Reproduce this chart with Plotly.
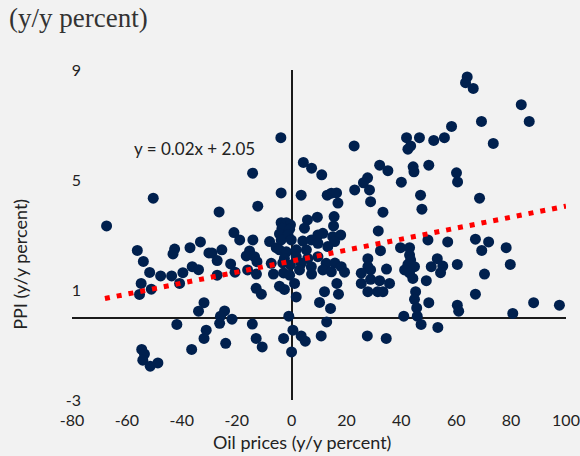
import plotly.graph_objects as go

# ---------------------------------
# Data
# ---------------------------------

oil_yy = [
    64.0, 63.4, 66.2, 83.7, 69.2, 86.6, 73.5, 58.3, 60.1, 55.7,
    51.8, 46.6, 41.9, 43.4, 42.4, 22.8, 32.1, 35.1, 44.3, 44.6,
    50.0, 27.7, -3.9, 4.3, 7.3, 11.0, -14.2, -50.4, -67.4, -56.2,
    -54.0, -42.6, -43.2, -37.0, -33.2, -30.1, -29.0, -26.4, -27.1, -51.7,
    -47.7, -43.7, -39.6, -40.8, -36.2, -33.9,
    -3.8, 3.5, 13.0, 14.5, 16.4, 16.9, -12.3, 5.8, 9.4, 15.5,
    15.3, -3.8, -1.9, -0.4, -3.5, -0.7, 4.7, -4.4, -1.3, 11.4,
    9.6, 15.0, 17.9, -21.0, -18.9, -14.1, -8.0, -3.8, -0.1, 4.1,
    7.2, 9.6, 15.7, -25.4, -15.3, -5.6, -4.4, -1.9, 1.7, 5.4,
    13.2, -16.5, -13.5, -2.6, 1.7, 5.9, 9.6, -22.2, -12.6, -7.4,
    -3.2, -0.4, 3.5, 7.2, 12.6, 15.8, -27.1, -20.6, -16.0, -12.8,
    -6.6, -2.9, -0.7, 2.9, 7.3, 11.4, 14.5, 19.3,
    60.5, 26.2, 23.0, 28.4, 28.8, 40.0, 47.0, 47.5, 33.3, 31.6,
    49.7, 56.9, 32.4, 39.7, 43.0, 43.0, 43.4, 27.8, 18.1, 27.8,
    28.8, 34.6, 42.4, 41.2, 44.8, 43.0, 53.1, 50.9, 55.1, 54.3,
    25.4,
    68.5, 67.0, 71.8, 69.3, 78.2, 60.4, 79.7, 70.3,
    67.0, 60.4, 60.9, 80.6, 88.2, 97.6,
    16.5, 17.1, 25.4, 28.8, 32.1, 35.7, 27.8, 31.4, 33.3, 44.2,
    49.1, 45.2, 44.8, 45.6, 50.0, 40.9, 45.8, 47.2, 53.3, 27.6,
    34.5,
    -12.9, -11.0, 1.1, -4.4, -2.6, 1.7, 12.0, 10.2, 14.2, -24.4,
    -25.9, -26.2, -21.7, -14.3, -1.0, 0.5, 3.5, 5.0, -2.9, -12.9,
    -10.7, -24.0, 0.0, 10.8, 12.8,
    -54.8, -55.4, -51.1, -31.9, -33.9, -41.8, -31.1, -31.9, -36.4, -54.6,
    -53.6, -54.2, -48.7, -51.5,
]

ppi_yy = [
    8.75, 8.54, 8.33, 7.74, 7.13, 7.13, 6.33, 6.95, 5.26, 6.54,
    6.44, 6.54, 6.54, 6.24, 6.12, 6.24, 5.54, 5.34, 5.48, 5.30,
    5.54, 5.08, 6.54, 5.64, 5.43, 5.19, 5.25, 4.34, 3.33, 2.44,
    2.04, 2.49, 2.31, 2.54, 2.75, 2.35, 2.35, 3.84, 2.07, 1.64,
    1.51, 1.51, 1.63, 1.24, 1.85, 1.74,
    4.53, 4.45, 4.45, 4.52, 4.53, 4.16, 4.05, 3.55, 3.65, 3.67,
    3.33, 3.45, 3.45, 3.37, 3.25, 3.21, 3.25, 3.04, 3.00, 3.06,
    3.00, 2.94, 3.00, 3.09, 2.82, 2.82, 2.76, 2.82, 2.82, 2.78,
    2.82, 2.70, 2.76, 2.46, 2.42, 2.54, 2.46, 2.39, 2.46, 2.46,
    2.58, 2.24, 2.21, 2.15, 2.21, 2.15, 2.21, 1.95, 2.03, 1.97,
    1.99, 1.91, 1.97, 1.85, 1.97, 1.98, 1.54, 1.65, 1.73, 1.58,
    1.58, 1.62, 1.54, 1.73, 1.58, 1.73, 1.66, 1.65,
    4.93, 4.90, 4.64, 4.64, 4.21, 4.92, 4.45, 3.94, 3.83, 3.15,
    2.82, 2.75, 2.43, 2.54, 2.54, 2.27, 2.09, 2.14, 1.85, 1.85,
    1.73, 1.76, 1.93, 1.73, 1.85, 1.62, 2.14, 1.85, 1.87, 1.63,
    1.61,
    4.34, 2.85, 2.75, 2.44, 2.54, 1.93, 1.93, 1.58,
    0.85, 0.45, 0.23, 0.15, 0.54, 0.45,
    1.24, 0.85, 1.24, 1.39, 1.34, 1.24, 0.94, 0.94, 0.94, 1.42,
    1.34, 0.94, 0.66, 0.35, 0.54, 0.05, 0.05, -0.25, -0.36, -0.67,
    -0.76,
    1.06, 0.85, 1.24, 1.14, 1.02, 0.75, 0.94, 0.55, 0.33, 0.24,
    0.05, -0.21, -0.06, -0.24, 0.05, -0.46, -0.67, -0.86, -0.76, -0.76,
    -1.07, -0.94, -1.25, -0.67, -0.16,
    1.24, 0.84, 1.03, 0.54, 0.23, -0.25, -0.46, -0.76, -1.16, -1.16,
    -1.33, -1.55, -1.65, -1.77,
]

# linear trend shown on the chart: y = 0.02x + 2.05
trend_slope = 0.02
trend_intercept = 2.05
trend_x = [-68, 100]
trend_y = [trend_slope * v + trend_intercept for v in trend_x]

x_ticks = [-80, -60, -40, -20, 0, 20, 40, 60, 80, 100]
y_ticks = [-3, 1, 5, 9]

NAVY = "#00204E"
BG = "#F2F2F2"
SANS = "Lato, Liberation Sans, sans-serif"
TXT = "#222222"

# ---------------------------------
# Figure
# ---------------------------------

fig = go.Figure()

fig.add_trace(go.Scatter(
    x=oil_yy,
    y=ppi_yy,
    mode="markers",
    marker=dict(size=11, color=NAVY),
    showlegend=False,
    hoverinfo="x+y",
))

fig.add_trace(go.Scatter(
    x=trend_x,
    y=trend_y,
    mode="lines",
    line=dict(color="#FF0000", width=5, dash="5px,7px"),
    showlegend=False,
    hoverinfo="skip",
))

fig.update_layout(
    width=580,
    height=456,
    margin=dict(l=72, r=14, t=70, b=56),
    paper_bgcolor=BG,
    plot_bgcolor=BG,
    font=dict(family=SANS, size=17, color=TXT),
    xaxis=dict(
        range=[-80, 100],
        tickvals=x_ticks,
        ticktext=[str(v) for v in x_ticks],
        showgrid=False,
        zeroline=True,
        zerolinecolor="#1a1a1a",
        zerolinewidth=1.5,
        showline=False,
        ticks="",
        automargin=False,
        ticklabelstandoff=9,
        tickfont=dict(size=16, color=TXT),
    ),
    yaxis=dict(
        range=[-3, 9],
        tickvals=y_ticks,
        ticktext=[str(v) for v in y_ticks],
        showgrid=False,
        zeroline=True,
        zerolinecolor="#1a1a1a",
        zerolinewidth=2,
        showline=False,
        ticks="",
        automargin=False,
        ticklabelstandoff=-10,
        tickfont=dict(size=16, color=TXT),
    ),
    annotations=[
        dict(text="(y/y percent)", xref="paper", yref="paper",
             x=-0.132, y=1.158, xanchor="left", yanchor="middle", showarrow=False,
             font=dict(family="Liberation Serif, serif", size=27, color="#333333")),
        dict(text="y = 0.02x + 2.05", xref="x", yref="y",
             x=-58, y=6.15, xanchor="left", yanchor="middle", showarrow=False,
             font=dict(family=SANS, size=17, color=TXT)),
        dict(text="Oil prices (y/y percent)", xref="paper", yref="paper",
             x=0.466, y=-0.128, xanchor="center", yanchor="middle", showarrow=False,
             font=dict(family=SANS, size=18, color=TXT)),
        dict(text="PPI (y/y percent)", xref="paper", yref="paper",
             x=-0.105, y=0.41, xanchor="center", yanchor="middle", showarrow=False,
             textangle=-90,
             font=dict(family=SANS, size=18, color=TXT)),
    ],
)

# drop the browser's default body margin so the chart fills the window
fig.write_html(
    "out.html",
    config={"displayModeBar": False},
    post_script="document.body.style.margin='0px';document.body.style.background='#F2F2F2';",
)
